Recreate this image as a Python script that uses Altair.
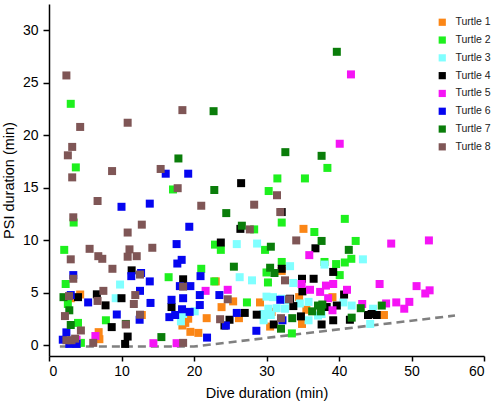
import altair as alt
import pandas as pd

turtle_names = ["Turtle 1", "Turtle 2", "Turtle 3", "Turtle 4",
                "Turtle 5", "Turtle 6", "Turtle 7", "Turtle 8"]
turtle_colors = ["#FB8616", "#1EF01E", "#80FFFF", "#000000",
                 "#F514F5", "#0505F0", "#0A7D0A", "#7F5656"]

# Turtle 1 (orange)
t1_x = [35.1, 32.1, 23.0, 4.3, 3.0, 12.8, 6.85, 6.95, 18.8, 18.4, 19.2, 19.5, 20.6,
        21.75, 23.8, 25.4, 26.2, 29.1, 30.7, 30.5, 34.5, 35.5, 34.9, 39.1, 46.2]
t1_y = [11.1, 7.1, 6.1, 4.85, 4.5, 2.9, 1.27, 0.6, 2.15, 1.9, 2.55, 1.3, 1.2,
        2.6, 3.65, 4.2, 2.6, 4.1, 3.2, 1.8, 4.6, 3.4, 2.05, 4.6, 2.9]

# Turtle 2 (lime)
t2_x = [3.0, 3.7, 3.4, 2.1, 2.3, 2.6, 4.0, 7.85, 4.4, 17.1, 21.0, 16.5, 22.9, 23.7,
        22.8, 27.3, 28.3, 30.3, 31.5, 32.1, 35.3, 36.6, 38.4, 40.8, 42.3, 41.7,
        40.8, 39.6, 38.0, 40.1, 29.8, 32.1, 30.0, 30.2, 33.5]
t2_y = [23.0, 16.95, 11.7, 9.1, 5.85, 3.95, 2.15, 2.4, 0.25, 14.85, 7.3, 6.5, 9.6, 9.1,
        6.1, 4.1, 11.05, 14.7, 15.9, 11.7, 15.9, 10.8, 16.9, 12.05, 9.95, 8.25,
        7.9, 7.75, 7.95, 6.7, 9.1, 7.95, 6.95, 6.0, 1.15]

# Turtle 3 (cyan)
t3_x = [9.8, 9.2, 25.9, 28.7, 26.3, 28.0, 33.25, 33.7, 38.0, 43.3, 30.0, 30.9, 32.1,
        32.8, 30.25, 31.4, 32.55, 30.6, 29.55, 34.6, 35.8, 18.2, 18.5, 20.1, 40.6,
        41.75, 44.7, 44.3, 37.6, 35.8, 29.6, 37.1]
t3_y = [5.8, 4.5, 9.65, 9.7, 6.5, 6.2, 7.55, 5.95, 7.7, 8.2, 4.65, 4.6, 4.45,
        4.3, 3.5, 3.55, 3.5, 2.9, 3.0, 4.0, 4.15, 2.3, 3.0, 3.25, 4.1,
        3.8, 3.5, 2.05, 3.0, 2.4, 2.4, 2.85]

# Turtle 4 (black)
t4_x = [26.5, 23.7, 26.4, 32.1, 36.75, 39.2, 32.1, 34.9, 36.5, 34.95, 33.25, 40.7,
        4.0, 6.6, 7.8, 11.4, 10.0, 8.65, 10.85, 10.5, 18.5, 16.9, 24.9, 24.2, 27.0,
        28.65, 31.0, 33.7, 34.75, 37.6, 39.2, 39.7, 44.5, 45.2, 44.0, 38.3, 41.5]
t4_y = [15.45, 9.8, 11.1, 12.7, 9.25, 7.0, 7.3, 6.35, 6.35, 5.15, 4.45, 4.85,
        4.6, 4.87, 3.82, 7.15, 4.5, 1.75, 0.85, 0.15, 6.3, 3.66, 2.45, 1.9, 3.1,
        2.93, 2.0, 3.75, 2.77, 2.0, 2.4, 3.8, 3.0, 2.9, 2.9, 3.66, 2.45]

# Turtle 5 (magenta)
t5_x = [41.65, 40.1, 52.4, 47.2, 35.9, 45.6, 50.7, 52.5, 51.9, 49.7, 47.9, 49.0, 46.5,
        43.2, 41.1, 39.2, 38.2, 37.4, 36.0, 34.85, 38.5, 39.1, 21.6, 24.65, 6.4,
        14.4, 17.6, 3.8]
t5_y = [25.8, 19.2, 10.0, 9.7, 8.6, 5.85, 5.65, 5.25, 4.95, 4.15, 4.1, 3.5, 4.0,
        3.95, 5.3, 5.85, 5.7, 5.1, 5.3, 5.85, 4.5, 3.35, 5.2, 5.3, 0.9,
        0.22, 0.22, 0.55]

# Turtle 6 (blue)
t6_x = [16.1, 19.2, 10.0, 13.9, 19.35, 17.6, 18.3, 17.7, 3.35, 11.35, 12.7, 12.55,
        13.9, 20.9, 18.05, 19.5, 5.4, 14.0, 9.35, 12.5, 16.9, 18.5, 20.8, 20.8,
        18.35, 19.4, 16.6, 17.4, 23.5, 25.9, 24.4, 21.8, 28.6, 31.9, 32.2, 2.4,
        1.9, 2.8, 3.8, 3.0]
t6_y = [16.35, 16.35, 13.2, 13.5, 11.3, 9.65, 8.15, 7.8, 6.7, 6.6, 6.9, 5.2,
        6.1, 6.6, 5.65, 5.65, 4.1, 4.05, 2.95, 2.45, 4.35, 4.5, 4.8, 3.85,
        3.45, 3.2, 2.7, 2.9, 4.8, 3.1, 1.9, 0.75, 1.4, 4.35, 2.4, 1.25,
        0.55, 0.15, 0.15, 4.8]

# Turtle 7 (dark green)
t7_x = [39.7, 22.7, 17.85, 32.6, 37.6, 22.8, 24.45, 26.6, 37.6, 41.35, 25.5, 30.6,
        30.5, 31.1, 2.0, 2.8, 3.0, 10.6, 15.5, 36.3, 37.1, 37.7, 37.5, 33.55, 32.0,
        41.75, 43.0, 45.9]
t7_y = [27.95, 22.3, 17.8, 18.4, 18.05, 14.8, 12.6, 11.4, 9.95, 9.1, 7.5, 9.4,
        7.4, 6.9, 4.6, 3.35, 1.95, 2.05, 0.8, 3.25, 3.8, 3.9, 3.25, 2.6, 1.6,
        2.65, 3.55, 3.8]

# Turtle 8 (brown)
t8_x = [2.4, 4.3, 3.2, 2.6, 3.2, 3.35, 3.35, 3.0, 10.85, 18.4, 8.7, 15.4, 17.75,
        6.7, 10.85, 12.8, 5.6, 6.8, 7.35, 8.75, 11.1, 10.85, 12.1, 14.25, 21.0,
        28.3, 31.45, 31.9, 27.7, 34.1, 7.5, 12.55, 11.9, 11.7, 12.55, 6.7, 2.76,
        2.2, 4.4, 10.6, 6.1, 18.5, 18.5, 24.65, 23.6, 32.55, 33.1, 32.0, 2.4,
        3.1, 3.6]
t8_y = [25.7, 20.8, 18.9, 18.1, 16.0, 12.2, 6.35, 8.2, 21.2, 22.4, 16.6, 16.8, 14.97,
        13.75, 10.75, 11.5, 9.2, 8.5, 8.25, 7.3, 9.15, 8.45, 8.5, 9.3, 13.3,
        13.4, 14.3, 12.7, 11.05, 10.0, 5.2, 6.75, 4.8, 3.95, 2.93, 4.24, 4.7,
        2.8, 1.43, 2.0, 0.25, 0.25, 5.6, 4.4, 2.5, 6.2, 4.4, 2.6, 0.5,
        0.5, 0.65]

# dashed reference line
line_x = [1.5, 20.0, 56.0]
line_y = [-0.1, -0.1, 2.85]

xs = [t1_x, t2_x, t3_x, t4_x, t5_x, t6_x, t7_x, t8_x]
ys = [t1_y, t2_y, t3_y, t4_y, t5_y, t6_y, t7_y, t8_y]

rows = []
order = 0
for name, xv, yv in zip(turtle_names, xs, ys):
    for a, b in zip(xv, yv):
        rows.append({"turtle": name, "dive": a, "psi": b, "order": order})
        order += 1
df = pd.DataFrame(rows)
line_df = pd.DataFrame({"dive": line_x, "psi": line_y})

FONT = "Liberation Sans"
x_scale = alt.Scale(domain=[0, 60], nice=False, zero=False)
y_scale = alt.Scale(domain=[-1, 32.5], nice=False, zero=False)

y_ticks = [i * 2.5 for i in range(14)]

points = alt.Chart(df).mark_point(shape="square", filled=True, size=64, opacity=1, strokeWidth=0).encode(
    x=alt.X("dive:Q", scale=x_scale,
            axis=alt.Axis(title="Dive duration (min)", values=list(range(0, 61, 5)),
                          grid=False, tickSize=5, labelPadding=3, labelFontSize=14,
                          titleFontSize=14.5, titleFontWeight="normal",
                          titleY=41, titleBaseline="alphabetic")),
    y=alt.Y("psi:Q", scale=y_scale,
            axis=alt.Axis(title="PSI duration (min)", values=y_ticks,
                          labelExpr="datum.value % 5 == 0 ? datum.label : ''",
                          grid=False, tickSize=6, labelPadding=5, labelFontSize=14,
                          titleFontSize=14.5, titleFontWeight="normal",
                          titleX=-40, titleY=176, titleAngle=270, titleBaseline="middle")),
    color=alt.Color("turtle:N",
                    scale=alt.Scale(domain=turtle_names, range=turtle_colors),
                    legend=alt.Legend(title=None, orient="none", legendX=388, legendY=13,
                                      symbolType="square", symbolSize=52, symbolStrokeWidth=0,
                                      labelFontSize=10.5, labelFont=FONT, labelColor="#222",
                                      labelOffset=8, rowPadding=6.8, padding=0)),
    order=alt.Order("order:Q"),
)

dash = alt.Chart(line_df).mark_line(color="#808080", strokeWidth=2.6, strokeDash=[8, 5]).encode(
    x=alt.X("dive:Q", scale=x_scale),
    y=alt.Y("psi:Q", scale=y_scale),
)

chart = alt.layer(dash, points).properties(
    width=435, height=352,
    autosize=alt.AutoSizeParams(type="none"),
    padding={"left": 49, "top": 4, "right": 14, "bottom": 46},
).configure_view(stroke=None).configure_axis(
    labelFont=FONT, titleFont=FONT, labelColor="#000", titleColor="#000",
    domainColor="#000", tickColor="#000", domainWidth=1.5, tickWidth=1.5,
)

chart.save("out.html", embed_options={"renderer": "svg", "actions": False})
